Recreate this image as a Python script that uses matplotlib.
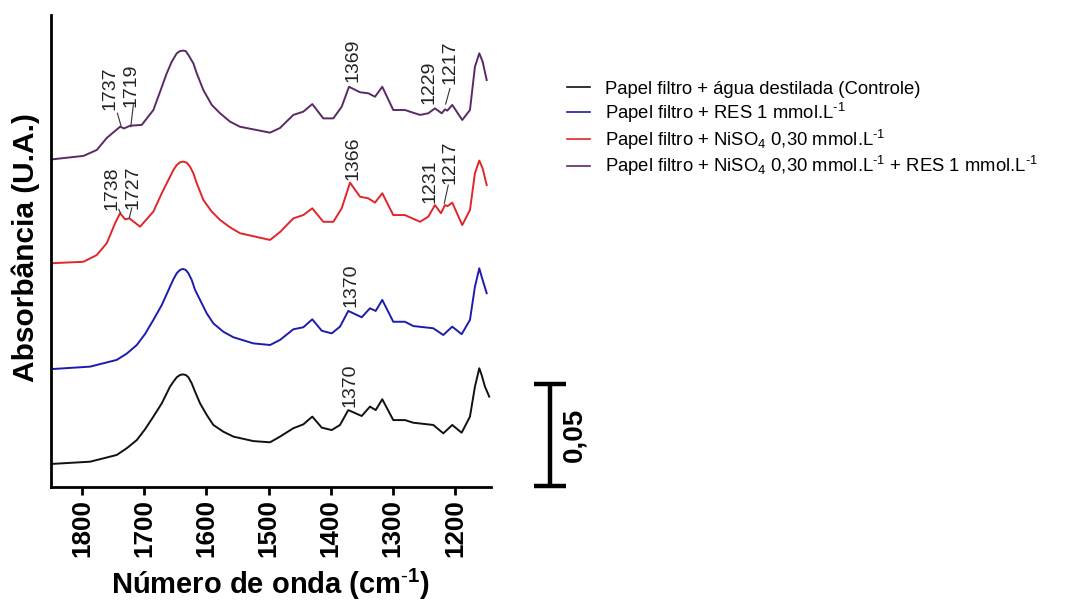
import matplotlib
matplotlib.use("Agg")
import matplotlib.pyplot as plt

plt.rcParams['font.family'] = ['Liberation Sans', 'DejaVu Sans']
plt.rcParams['mathtext.fontset'] = 'custom'
plt.rcParams['mathtext.rm'] = 'Liberation Sans'
plt.rcParams['mathtext.it'] = 'Liberation Sans:italic'
plt.rcParams['mathtext.bf'] = 'Liberation Sans:bold'

# ---------------- data (wavenumber cm-1, absorbance with stacking offset) -------------
wn_controle = [1848.7, 1787.1, 1744.2, 1728.1, 1712.0, 1698.7, 1685.3, 1671.8, 1658.5, 1653.1,
               1647.7, 1642.4, 1638.0, 1633.2, 1629.0, 1623.6, 1618.2, 1610.2, 1599.4, 1588.8,
               1572.7, 1556.6, 1524.5, 1497.6, 1481.5, 1460.1, 1444.0, 1429.6, 1414.4, 1398.4,
               1385.0, 1371.7, 1350.1, 1336.8, 1327.6, 1317.0, 1299.3, 1280.5, 1267.1, 1234.9,
               1218.8, 1204.4, 1189.3, 1175.9, 1167.9, 1160.9, 1157.1, 1151.8, 1144.9]
abs_controle = [0.0113, 0.0124, 0.0157, 0.0190, 0.0230, 0.0283, 0.0345, 0.0410, 0.0492, 0.0516,
                0.0538, 0.0549, 0.0552, 0.0549, 0.0538, 0.0508, 0.0467, 0.0410, 0.0353, 0.0304,
                0.0271, 0.0247, 0.0225, 0.0219, 0.0247, 0.0288, 0.0307, 0.0345, 0.0291, 0.0279,
                0.0304, 0.0377, 0.0348, 0.0394, 0.0377, 0.0430, 0.0328, 0.0328, 0.0315, 0.0304,
                0.0263, 0.0304, 0.0266, 0.0345, 0.0492, 0.0582, 0.0549, 0.0492, 0.0443]

wn_res = [1848.7, 1787.1, 1744.2, 1728.1, 1712.0, 1698.7, 1685.3, 1671.8, 1658.5, 1653.1,
          1647.7, 1642.4, 1638.0, 1633.2, 1629.0, 1623.6, 1618.2, 1610.2, 1599.4, 1588.8,
          1572.7, 1556.6, 1524.5, 1497.6, 1481.5, 1460.1, 1444.0, 1429.6, 1414.4, 1398.4,
          1385.0, 1371.7, 1350.1, 1336.8, 1327.6, 1317.0, 1299.3, 1280.5, 1267.1, 1234.9,
          1218.8, 1204.4, 1189.3, 1175.9, 1167.9, 1160.9, 1157.1, 1149.0]
abs_res = [0.0578, 0.0590, 0.0623, 0.0654, 0.0696, 0.0750, 0.0819, 0.0892, 0.0982, 0.1018,
           0.1048, 0.1064, 0.1069, 0.1064, 0.1048, 0.1015, 0.0966, 0.0917, 0.0851, 0.0802,
           0.0761, 0.0734, 0.0704, 0.0696, 0.0721, 0.0773, 0.0783, 0.0822, 0.0766, 0.0753,
           0.0786, 0.0863, 0.0832, 0.0876, 0.0863, 0.0917, 0.0810, 0.0810, 0.0789, 0.0778,
           0.0745, 0.0786, 0.0749, 0.0819, 0.0982, 0.1072, 0.1031, 0.0950]

wn_niso4 = [1848.7, 1797.9, 1776.4, 1760.3, 1746.9, 1738.9, 1730.8, 1723.9, 1706.7, 1685.3,
            1671.8, 1658.5, 1653.1, 1647.7, 1642.4, 1637.1, 1631.6, 1626.3, 1621.0, 1615.5,
            1604.9, 1591.4, 1578.0, 1561.9, 1545.9, 1497.6, 1481.5, 1460.1, 1444.0, 1429.6,
            1411.9, 1395.8, 1382.3, 1368.9, 1352.8, 1339.5, 1328.7, 1317.0, 1299.3, 1280.5,
            1256.3, 1243.0, 1232.2, 1222.5, 1216.1, 1211.8, 1204.4, 1188.3, 1175.9, 1167.9,
            1160.9, 1155.5, 1149.0]
abs_niso4 = [0.1097, 0.1104, 0.1137, 0.1195, 0.1293, 0.1342, 0.1312, 0.1317, 0.1276, 0.1350,
             0.1440, 0.1521, 0.1554, 0.1578, 0.1592, 0.1595, 0.1590, 0.1570, 0.1538, 0.1489,
             0.1407, 0.1350, 0.1309, 0.1273, 0.1244, 0.1211, 0.1250, 0.1317, 0.1333, 0.1366,
             0.1300, 0.1300, 0.1366, 0.1492, 0.1423, 0.1415, 0.1394, 0.1440, 0.1333, 0.1333,
             0.1300, 0.1325, 0.1382, 0.1342, 0.1382, 0.1377, 0.1394, 0.1284, 0.1358, 0.1538,
             0.1600, 0.1562, 0.1480]

wn_niso4_res = [1848.7, 1797.9, 1776.4, 1760.3, 1738.9, 1732.4, 1722.8, 1704.0, 1685.3, 1674.5,
                1663.8, 1655.7, 1647.7, 1642.4, 1638.0, 1633.2, 1629.0, 1621.0, 1615.5, 1604.9,
                1591.4, 1578.0, 1561.9, 1545.9, 1497.6, 1481.5, 1460.1, 1444.0, 1429.6, 1411.9,
                1395.8, 1382.3, 1370.5, 1352.8, 1339.5, 1328.7, 1317.0, 1299.3, 1280.5, 1256.3,
                1243.0, 1232.2, 1221.4, 1216.1, 1212.4, 1204.4, 1188.3, 1175.9, 1167.9, 1160.9,
                1155.5, 1149.0]
abs_niso4_res = [0.1606, 0.1623, 0.1652, 0.1711, 0.1766, 0.1758, 0.1771, 0.1775, 0.1848, 0.1938,
                 0.2028, 0.2085, 0.2126, 0.2137, 0.2139, 0.2137, 0.2118, 0.2077, 0.2028, 0.1946,
                 0.1873, 0.1832, 0.1791, 0.1766, 0.1737, 0.1760, 0.1824, 0.1840, 0.1877, 0.1807,
                 0.1807, 0.1864, 0.1962, 0.1935, 0.1930, 0.1913, 0.1962, 0.1848, 0.1848, 0.1824,
                 0.1832, 0.1856, 0.1832, 0.1851, 0.1845, 0.1873, 0.1799, 0.1848, 0.2060, 0.2126,
                 0.2085, 0.1995]

series_labels = ['Papel filtro + água destilada (Controle)',
                 'Papel filtro + RES 1 mmol.L$^{\\text{-}1}$',
                 'Papel filtro + NiSO$_{4}$ 0,30 mmol.L$^{\\text{-}1}$',
                 'Papel filtro + NiSO$_{4}$ 0,30 mmol.L$^{\\text{-}1}$ + RES 1 mmol.L$^{\\text{-}1}$']
series_colors = ['#111111', '#1c1cae', '#e0262a', '#5a2a66']

xticks = [1800, 1700, 1600, 1500, 1400, 1300, 1200]

# peak annotations: text, text position (wn, abs), optional leader line
peak_text = ['1737', '1719', '1738', '1727', '1369', '1229', '1217',
             '1366', '1231', '1217', '1370', '1370']
peak_tx = [1755.0, 1721.2, 1752.5, 1718.8, 1364.9, 1241.9, 1208.1,
           1364.9, 1240.2, 1208.1, 1368.1, 1368.9]
peak_ty = [0.1956, 0.1971, 0.1466, 0.1471, 0.2093, 0.1985, 0.2083,
           0.1613, 0.1500, 0.1593, 0.0990, 0.0500]
leaders = [((1743.2, 0.1832), (1737.3, 0.1770)),
           ((1717.5, 0.1873), (1721.7, 0.1766)),
           ((1741.0, 0.1361), (1738.0, 0.1342)),
           ((1720.1, 0.1368), (1724.0, 0.1319)),
           ((1208.1, 0.1954), (1215.0, 0.1877)),
           ((1210.8, 0.1480), (1217.2, 0.1391))]

scale_value = 0.05

# ---------------- figure -------------
fig = plt.figure(figsize=(10.74, 6.03), dpi=100)
ax = fig.add_axes([0.0475, 0.1924, 0.4097, 0.7828])

xs = [wn_controle, wn_res, wn_niso4, wn_niso4_res]
ys = [abs_controle, abs_res, abs_niso4, abs_niso4_res]
for x, y, lab, col in zip(xs, ys, series_labels, series_colors):
    ax.plot(x, y, color=col, lw=1.4, label=lab, solid_joinstyle='round')

ax.set_xlim(1850, 1142)
ax.set_ylim(0, 0.2314)
ax.set_yticks([])
ax.set_xticks(xticks, [str(t) for t in xticks], rotation=90, fontweight='bold', fontsize=18.7)
ax.tick_params(axis='x', direction='out', length=6, width=2, pad=2.5)
for s in ['top', 'right']:
    ax.spines[s].set_visible(False)
for s in ['left', 'bottom']:
    ax.spines[s].set_linewidth(2)

ax.set_xlabel('Número de onda (cm$^{\\text{-}\\mathbf{1}}$)', fontsize=21, fontweight='bold')
ax.xaxis.label.set_va('baseline')
ax.xaxis.set_label_coords(0.5, -0.226)
ax.set_ylabel('Absorbância (U.A.)', fontsize=21.5, fontweight='bold')
ax.yaxis.set_label_coords(-0.024, 0.507)

for t, tx, ty in zip(peak_text, peak_tx, peak_ty):
    ax.text(tx, ty, t, rotation=90, ha='center', va='center', fontsize=14, color='#222222')
for (p0, p1) in leaders:
    ax.plot([p0[0], p1[0]], [p0[1], p1[1]], color='#333333', lw=0.8)

# scale bar
bar_x = 1047
ax.plot([bar_x, bar_x], [0.0005, 0.0005 + scale_value], color='black', lw=3.2,
        clip_on=False, solid_capstyle='butt')
for yy in [0.0005, 0.0005 + scale_value]:
    ax.plot([bar_x + 26, bar_x - 26], [yy, yy], color='black', lw=3.2, clip_on=False,
            solid_capstyle='butt')
ax.text(1008.6, 0.0005 + scale_value / 2, '0,05', rotation=90, ha='center', va='center',
        fontsize=20, fontweight='bold', clip_on=False)

leg = fig.legend(loc='upper left', bbox_to_anchor=(0.5277, 0.866), frameon=False,
                 fontsize=13.3, handlelength=1.25, handletextpad=0.8, labelspacing=0.15,
                 borderpad=0, borderaxespad=0)
for h in leg.get_lines():
    h.set_linewidth(1.2)

fig.savefig('out.png', dpi=100)
